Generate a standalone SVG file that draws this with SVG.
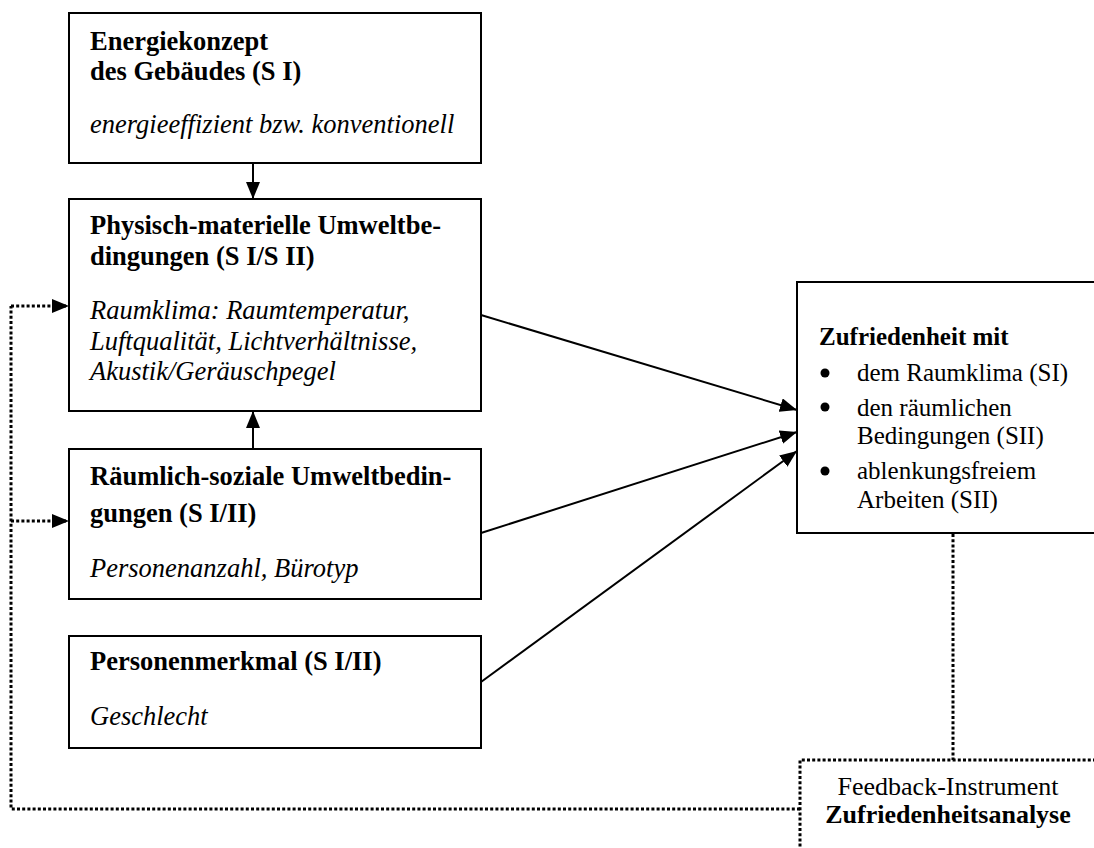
<svg xmlns="http://www.w3.org/2000/svg" width="1094" height="848" viewBox="0 0 1094 848">
  <style>
    .box { fill: #fff; stroke: #000; stroke-width: 2; }
    .t { font-family: "Liberation Serif", "Times New Roman", serif; font-size: 26.5px; fill: #000; }
    .f { font-family: "Liberation Serif", "Times New Roman", serif; font-size: 26px; fill: #000; }
    .r { font-family: "Liberation Serif", "Times New Roman", serif; font-size: 25px; fill: #000; }
    .b { font-weight: bold; }
    .i { font-style: italic; }
    .edge { stroke: #000; stroke-width: 2; fill: none; }
    .dot { stroke: #000; stroke-width: 3; fill: none; stroke-dasharray: 3 2.2; }
  </style>
  <defs>
    <marker id="arrow" markerUnits="userSpaceOnUse" markerWidth="18" markerHeight="14" refX="17" refY="7" orient="auto" viewBox="0 0 18 14">
      <path d="M0,0 L17,7 L0,14 Z" fill="#000"/>
    </marker>
  </defs>
  <rect width="1094" height="848" fill="#fff"/>

  <g id="energiekonzept">
    <rect class="box" x="69" y="13" width="412" height="150"/>
    <text class="t b" x="90" y="50">Energiekonzept</text>
    <text class="t b" x="90" y="80">des Gebäudes (S I)</text>
    <text class="t i" x="90" y="133">energieeffizient bzw. konventionell</text>
  </g>

  <g id="physisch">
    <rect class="box" x="69" y="199" width="412" height="212"/>
    <text class="t b" x="90" y="234">Physisch-materielle Umweltbe-</text>
    <text class="t b" x="90" y="265">dingungen (S I/S II)</text>
    <text class="t i" x="90" y="319">Raumklima: Raumtemperatur,</text>
    <text class="t i" x="90" y="350">Luftqualität, Lichtverhältnisse,</text>
    <text class="t i" x="90" y="380">Akustik/Geräuschpegel</text>
  </g>

  <g id="raeumlich">
    <rect class="box" x="69" y="449" width="412" height="150"/>
    <text class="t b" x="90" y="485">Räumlich-soziale Umweltbedin-</text>
    <text class="t b" x="90" y="522">gungen (S I/II)</text>
    <text class="t i" x="90" y="577">Personenanzahl, Bürotyp</text>
  </g>

  <g id="personenmerkmal">
    <rect class="box" x="69" y="636" width="412" height="112"/>
    <text class="t b" x="90" y="670">Personenmerkmal (S I/II)</text>
    <text class="t i" x="90" y="725">Geschlecht</text>
  </g>

  <g id="zufriedenheit">
    <rect class="box" x="797" y="282" width="310" height="251"/>
    <text class="r b" x="819" y="345">Zufriedenheit mit</text>
    <circle cx="825" cy="373" r="4.5" fill="#000"/>
    <text class="r" x="857" y="381">dem Raumklima (SI)</text>
    <circle cx="825" cy="407" r="4.5" fill="#000"/>
    <text class="r" x="857" y="416">den räumlichen</text>
    <text class="r" x="857" y="444">Bedingungen (SII)</text>
    <circle cx="825" cy="471" r="4.5" fill="#000"/>
    <text class="r" x="857" y="479">ablenkungsfreiem</text>
    <text class="r" x="857" y="508">Arbeiten (SII)</text>
  </g>

  <g id="feedback">
    <path class="dot" d="M1096,760 H800 V850"/>
    <text class="f" x="948" y="795" text-anchor="middle">Feedback-Instrument</text>
    <text class="f b" x="948" y="823" text-anchor="middle">Zufriedenheitsanalyse</text>
  </g>

  <g id="connectors">
    <line class="edge" x1="253" y1="163" x2="253" y2="199" marker-end="url(#arrow)"/>
    <line class="edge" x1="253" y1="449" x2="253" y2="411" marker-end="url(#arrow)"/>
    <line class="edge" x1="481" y1="315" x2="797" y2="410" marker-end="url(#arrow)"/>
    <line class="edge" x1="481" y1="533" x2="797" y2="432" marker-end="url(#arrow)"/>
    <line class="edge" x1="481" y1="682" x2="797" y2="451" marker-end="url(#arrow)"/>
    <path class="dot" d="M953,534 V760"/>
    <path class="dot" d="M800,809 H11 V306"/>
    <line class="dot" x1="11" y1="306" x2="69" y2="306" marker-end="url(#arrow)"/>
    <line class="dot" x1="11" y1="521" x2="69" y2="521" marker-end="url(#arrow)"/>
  </g>
</svg>
